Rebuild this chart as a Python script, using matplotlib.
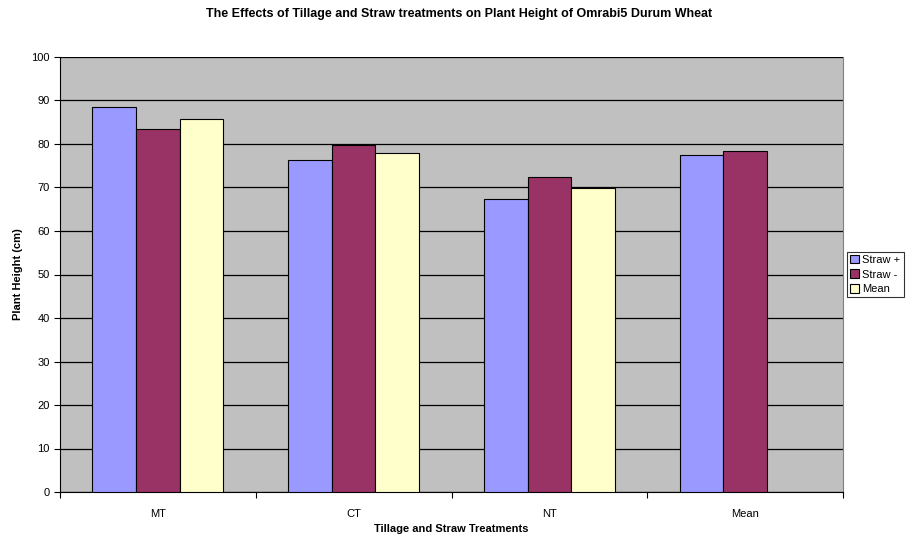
import numpy as np
import matplotlib.pyplot as plt

plt.rcParams['font.family'] = ['Liberation Sans', 'DejaVu Sans']

# plant height (cm) by tillage treatment
categories = ["MT", "CT", "NT", "Mean"]
straw_plus = [88.5, 76.3, 67.4, 77.4]
straw_minus = [83.4, 79.8, 72.4, 78.5]
mean_vals = [85.8, 77.9, 69.9, None]

series = [("Straw +", straw_plus, "#9999FF"),
          ("Straw -", straw_minus, "#993366"),
          ("Mean", mean_vals, "#FFFFCC")]

fig = plt.figure(figsize=(9.19, 5.4), dpi=100)
ax = fig.add_axes([60/919, 48/540, 783/919, 435/540])
ax.set_facecolor("#C0C0C0")

x = np.arange(len(categories))
w = 0.223
for i, (name, vals, col) in enumerate(series):
    xs = [x[j] + (i - 1) * w for j, v in enumerate(vals) if v is not None]
    hs = [v for v in vals if v is not None]
    ax.bar(xs, hs, width=w, color=col, edgecolor="black", linewidth=0.8,
           label=name, zorder=3)

ax.set_ylim(0, 100)
ax.set_xlim(-0.5, len(categories) - 0.5)
ax.set_yticks(range(0, 101, 10))
ax.yaxis.grid(True, color="black", linewidth=0.9, zorder=1)
ax.tick_params(axis="y", labelsize=8, length=4, width=0.8, direction="out")

ax.set_xticks(x)
ax.set_xticklabels(categories, fontsize=8)
ax.tick_params(axis="x", which="major", length=0, pad=12)
ax.set_xticks(np.arange(-0.5, len(categories), 1.0), minor=True)
ax.tick_params(axis="x", which="minor", length=4, width=0.8, direction="out")

ax.spines["top"].set_visible(False)
ax.spines["right"].set_color("#808080")
ax.spines["left"].set_linewidth(0.8)
ax.spines["bottom"].set_linewidth(0.8)

ax.set_ylabel("Plant Height (cm)", fontsize=8, fontweight="bold", labelpad=6)
ax.set_xlabel("Tillage and Straw Treatments", fontsize=8, fontweight="bold", labelpad=4)
fig.suptitle("The Effects of Tillage and Straw treatments on Plant Height of Omrabi5 Durum Wheat",
             fontsize=9, fontweight="bold", y=0.985)

leg = ax.legend(loc="center left", bbox_to_anchor=(1.005, 0.5), fontsize=8,
                frameon=True, fancybox=False, edgecolor="black",
                handlelength=0.8, handleheight=0.8, handletextpad=0.3,
                borderpad=0.3, labelspacing=0.4, borderaxespad=0)
leg.get_frame().set_linewidth(0.8)

fig.savefig("out.png", dpi=100)
